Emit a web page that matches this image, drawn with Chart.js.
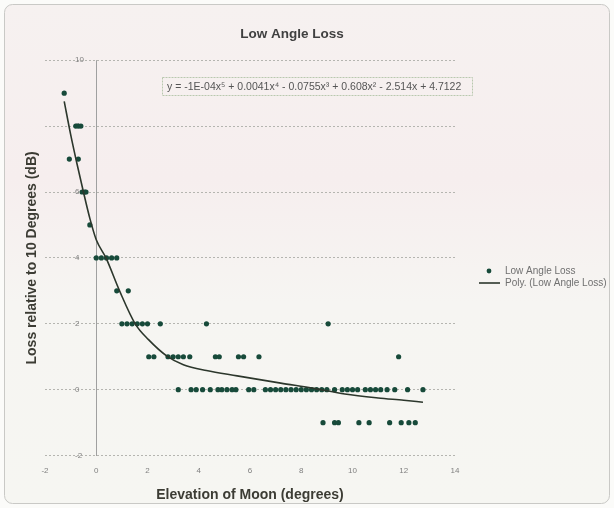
<!DOCTYPE html>
<html>
<head>
<meta charset="utf-8">
<script src="https://cdn.jsdelivr.net/npm/chart.js@4"></script>
<style>
  html, body { margin: 0; padding: 0; background: #fbfbf9; }
  #wrap { width: 614px; height: 508px; }
</style>
</head>
<body>
<div id="wrap"><canvas id="c" width="614" height="508"></canvas></div>
<script>
// ---- data ----
const chartTitle = "Low Angle Loss";
const xTitle = "Elevation of Moon (degrees)";
const yTitle = "Loss relative to 10 Degrees (dB)";
const seriesName = "Low Angle Loss";
const trendName = "Poly. (Low Angle Loss)";
const equationText = "y = -1E-04x\u2075 + 0.0041x\u2074 - 0.0755x\u00B3 + 0.608x\u00B2 - 2.514x + 4.7122";

const elevation = [
  -1.25,
  -0.8, -0.7, -0.6,
  -1.05, -0.7,
  -0.55, -0.45, -0.4,
  -0.25,
  0, 0.2, 0.4, 0.6, 0.8,
  0.8, 1.25,
  1.0, 1.2, 1.4, 1.6, 1.8, 2.0, 2.5, 4.3, 9.05,
  2.05, 2.25, 2.8, 3.0, 3.2, 3.4, 3.65, 4.65, 4.8, 5.55, 5.75, 6.35, 11.8,
  3.2, 3.7, 3.9, 4.15, 4.45, 4.75, 4.9, 5.1, 5.3, 5.45, 5.95, 6.15, 6.6, 6.8, 7.0, 7.2, 7.4, 7.6, 7.8, 8.0, 8.2, 8.4, 8.6, 8.8, 9.0, 9.3, 9.6, 9.8, 10.0, 10.2, 10.5, 10.7, 10.9, 11.1, 11.35, 11.65, 12.15, 12.75,
  8.85, 9.3, 9.45, 10.25, 10.65, 11.45, 11.9, 12.2, 12.45
];
const loss = [
  9,
  8, 8, 8,
  7, 7,
  6, 6, 6,
  5,
  4, 4, 4, 4, 4,
  3, 3,
  2, 2, 2, 2, 2, 2, 2, 2, 2,
  1, 1, 1, 1, 1, 1, 1, 1, 1, 1, 1, 1, 1,
  0, 0, 0, 0, 0, 0, 0, 0, 0, 0, 0, 0, 0, 0, 0, 0, 0, 0, 0, 0, 0, 0, 0, 0, 0, 0, 0, 0, 0, 0, 0, 0, 0, 0, 0, 0, 0, 0,
  -1, -1, -1, -1, -1, -1, -1, -1, -1
];
const trendElevation = [-1.25, -1.0, -0.75, -0.5, -0.25, 0, 0.38, 0.91, 1.52, 2.04, 2.76, 3.4, 4.3, 5.5, 7.2, 8.5, 9.7, 11.0, 12.0, 12.75];
const trendLoss      = [8.75, 7.75, 6.85, 6.0, 5.2, 4.55, 4.0, 3.0, 2.0, 1.52, 1.02, 0.76, 0.58, 0.42, 0.2, 0.04, -0.13, -0.25, -0.32, -0.38];

const xMin = -2, xMax = 14, yMin = -2, yMax = 10, tickStep = 2;

// ---- build library structures ----
const scatterPts = elevation.map((x, i) => ({ x: x, y: loss[i] }));
const trendPts = trendElevation.map((x, i) => ({ x: x, y: trendLoss[i] }));

const DOT = '#174a3a';
const LINE = '#2c372c';
const FONT = '"Liberation Sans", Arial, sans-serif';

function makeDot() {
  const c = document.createElement('canvas'); c.width = 8; c.height = 8;
  const g = c.getContext('2d'); g.fillStyle = DOT; g.beginPath(); g.arc(4, 4, 2.4, 0, Math.PI * 2); g.fill();
  return c;
}
function makeLine() {
  const c = document.createElement('canvas'); c.width = 21; c.height = 4;
  const g = c.getContext('2d'); g.strokeStyle = LINE; g.lineWidth = 1.6;
  g.beginPath(); g.moveTo(0, 2); g.lineTo(21, 2); g.stroke();
  return c;
}
const legendDot = makeDot();
const legendLine = makeLine();

const layoutPlugin = {
  id: 'placeBlocks',
  beforeDraw(chart) {
    const ctx = chart.ctx;
    ctx.save();
    ctx.fillStyle = '#fbfbf9';
    ctx.fillRect(0, 0, chart.width, chart.height);
    const g = ctx.createLinearGradient(0, 4, 0, 504);
    g.addColorStop(0, '#f6f1f0');
    g.addColorStop(0.35, '#f6eeee');
    g.addColorStop(0.6, '#f6f5f2');
    g.addColorStop(1, '#f6f6f2');
    ctx.fillStyle = g;
    ctx.beginPath();
    ctx.roundRect(4.5, 4.5, 605, 499, 8);
    ctx.fill();
    ctx.strokeStyle = '#c9c9c6';
    ctx.lineWidth = 1;
    ctx.stroke();
    ctx.restore();
  },
  afterLayout(chart) {
    const t = chart.titleBlock;
    if (t) { t.left = 20; t.right = 564; }
    const lg = chart.legend;
    if (lg) {
      const p = lg.options.labels.padding;
      lg.left = 478 - p; lg.right = 614;
      lg.top = 266 - p; lg.bottom = 310;
    }
  }
};

const eqPlugin = {
  id: 'eq',
  afterDraw(chart) {
    const ctx = chart.ctx;
    ctx.save();
    ctx.strokeStyle = '#b9c8ae';
    ctx.lineWidth = 1;
    ctx.setLineDash([2, 1]);
    ctx.strokeRect(162.5, 77.5, 310, 18);
    ctx.setLineDash([]);
    ctx.fillStyle = '#555555';
    ctx.font = '10.5px ' + FONT;
    ctx.textBaseline = 'middle';
    ctx.fillText(equationText, 167, 87, 301);
    ctx.restore();
  }
};

new Chart(document.getElementById('c'), {
  type: 'scatter',
  data: {
    datasets: [
      {
        label: seriesName,
        data: scatterPts,
        pointStyle: 'circle',
        pointRadius: 2.6,
        pointHoverRadius: 2.6,
        backgroundColor: DOT,
        borderColor: DOT,
        borderWidth: 0,
        order: 1
      },
      {
        label: trendName,
        type: 'line',
        data: trendPts,
        showLine: true,
        pointRadius: 0,
        borderColor: LINE,
        backgroundColor: LINE,
        borderWidth: 1.6,
        cubicInterpolationMode: 'monotone',
        fill: false,
        order: 0
      }
    ]
  },
  options: {
    responsive: false,
    animation: false,
    devicePixelRatio: 1,
    layout: { padding: { top: 16, left: 20, right: 159, bottom: 2 } },
    plugins: {
      tooltip: { enabled: false },
      title: {
        display: true,
        text: chartTitle,
        color: '#404040',
        font: { family: FONT, size: 13.5, weight: 'bold' },
        padding: { top: 10, bottom: 18 }
      },
      legend: {
        display: true,
        position: 'chartArea',
        align: 'start',
        labels: {
          usePointStyle: true,
          pointStyleWidth: 22,
          boxHeight: 8,
          padding: 2,
          color: '#707070',
          font: { family: FONT, size: 10 },
          generateLabels(chart) {
            return chart.data.datasets.map((ds, i) => ({
              text: ds.label,
              fillStyle: ds.backgroundColor,
              strokeStyle: ds.borderColor,
              lineWidth: 0,
              pointStyle: i === 0 ? legendDot : legendLine,
              hidden: false,
              datasetIndex: i,
              fontColor: '#707070'
            }));
          }
        }
      }
    },
    scales: {
      x: {
        type: 'linear',
        position: 'bottom',
        min: xMin, max: xMax,
        ticks: { stepSize: tickStep, color: '#808080', padding: 10, font: { family: FONT, size: 8 } },
        grid: {
          display: true, drawTicks: false, lineWidth: 1,
          color: (c) => (c.tick && c.tick.value === 0) ? '#a0a0a0' : 'rgba(0,0,0,0)'
        },
        border: { display: false },
        title: {
          display: true, text: xTitle, color: '#3c3c34',
          font: { family: FONT, size: 14, weight: 'bold' },
          padding: { top: 2, bottom: 2 }
        }
      },
      y: {
        type: 'linear',
        position: 'left',
        min: yMin, max: yMax,
        afterFit(scale) { scale.width = 25; },
        ticks: { stepSize: tickStep, mirror: true, padding: 30, color: '#808080', font: { family: FONT, size: 8 } },
        grid: { display: true, drawTicks: false, color: '#b5b5b0', lineWidth: 1 },
        border: { display: false, dash: [2, 2] },
        title: {
          display: true, text: yTitle, color: '#3c3c34',
          font: { family: FONT, size: 14, weight: 'bold' },
          padding: { top: 4, bottom: 4 }
        }
      }
    }
  },
  plugins: [layoutPlugin, eqPlugin]
});
</script>
</body>
</html>
